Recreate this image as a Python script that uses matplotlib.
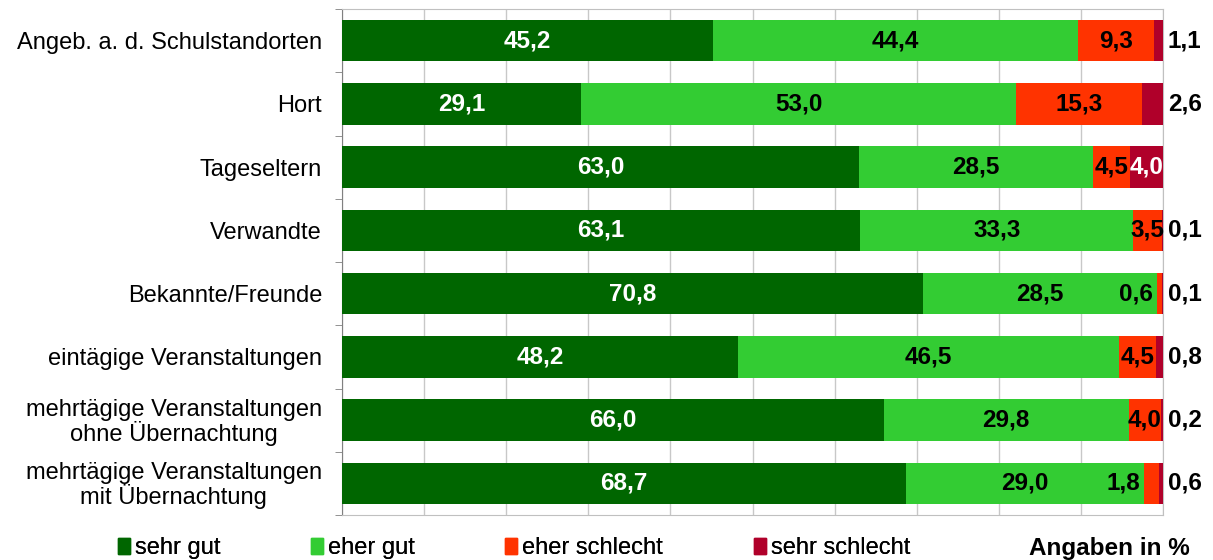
import numpy as np
import matplotlib.pyplot as plt
from matplotlib.patches import Patch

plt.rcParams['font.family'] = ['Liberation Sans', 'DejaVu Sans']

# data
categories = ["Angeb. a. d. Schulstandorten", "Hort", "Tageseltern", "Verwandte",
              "Bekannte/Freunde", "eintägige Veranstaltungen",
              "mehrtägige Veranstaltungen\nohne Übernachtung",
              "mehrtägige Veranstaltungen\nmit Übernachtung"]
sehr_gut = [45.2, 29.1, 63.0, 63.1, 70.8, 48.2, 66.0, 68.7]
eher_gut = [44.4, 53.0, 28.5, 33.3, 28.5, 46.5, 29.8, 29.0]
eher_schlecht = [9.3, 15.3, 4.5, 3.5, 0.6, 4.5, 4.0, 1.8]
sehr_schlecht = [1.1, 2.6, 4.0, 0.1, 0.1, 0.8, 0.2, 0.6]

series = ["sehr gut", "eher gut", "eher schlecht", "sehr schlecht"]
colors = ["#006600", "#33CC33", "#FF3300", "#B0002A"]

fig = plt.figure(figsize=(12.13, 5.6), dpi=100)
ax = fig.add_axes([342/1213, 1-515/560, 821/1213, 506/560])

y = np.arange(len(categories))
vals = [sehr_gut, eher_gut, eher_schlecht, sehr_schlecht]
left = np.zeros(len(categories))
for s, v, c in zip(series, vals, colors):
    ax.barh(y, v, left=left, height=0.66, color=c, label=s, zorder=3)
    left += np.array(v)

fs = 17.5
def fmt(v):
    return f"{v:.1f}".replace(".", ",")

for i in range(len(categories)):
    g, eg, es, ss = sehr_gut[i], eher_gut[i], eher_schlecht[i], sehr_schlecht[i]
    ax.text(g/2, i, fmt(g), ha="center", va="center", color="white",
            fontsize=fs, fontweight="bold", zorder=4)
    ax.text(g + eg/2, i, fmt(eg), ha="center", va="center", color="black",
            fontsize=fs, fontweight="bold", zorder=4)
    if es < 2:
        # small segment: label sits just left of it
        ax.text(g + eg - 0.5, i, fmt(es), ha="right", va="center", color="black",
                fontsize=fs, fontweight="bold", zorder=4)
    else:
        ax.text(g + eg + es/2, i, fmt(es), ha="center", va="center", color="black",
                fontsize=fs, fontweight="bold", zorder=4)
    if ss >= 3:
        ax.text(g + eg + es + ss/2, i, fmt(ss), ha="center", va="center",
                color="white", fontsize=fs, fontweight="bold", zorder=4)
    else:
        ax.text(100.6, i, fmt(ss), ha="left", va="center", color="black",
                fontsize=fs, fontweight="bold", zorder=4, clip_on=False)

ax.set_xlim(0, 100)
ax.set_ylim(len(categories) - 0.5, -0.5)
ax.set_xticks(np.arange(0, 101, 10))
ax.xaxis.grid(True, color="#C8C8C8", linewidth=1, zorder=0)
ax.tick_params(axis="x", length=0, labelbottom=False)
ax.set_yticks(y)
ax.set_yticklabels(categories, fontsize=17, multialignment="center", linespacing=1.0)
ax.set_yticks(np.arange(-0.5, len(categories), 1), minor=True)
ax.tick_params(axis="y", which="major", length=0, pad=14.4)
ax.tick_params(axis="y", which="minor", length=5, color="#808080")
for sp in ["top", "right", "bottom"]:
    ax.spines[sp].set_color("#C0C0C0")
ax.spines["left"].set_color("#808080")

# legend, one entry each
leg_x = [118, 311, 505, 754]
for s, c, lx in zip(series, colors, leg_x):
    lg = fig.legend(handles=[Patch(color=c, label=s)], loc="center left",
                    bbox_to_anchor=(lx/1213, 1-548/560), frameon=False,
                    fontsize=17, handlelength=0.5, handleheight=0.65,
                    handletextpad=0.2, borderpad=0, borderaxespad=0)
    fig.add_artist(lg)

fig.text(1190/1213, 1-548/560, "Angaben in %", ha="right", va="center",
         fontsize=17.5, fontweight="bold")

fig.savefig("out.png", dpi=100)
